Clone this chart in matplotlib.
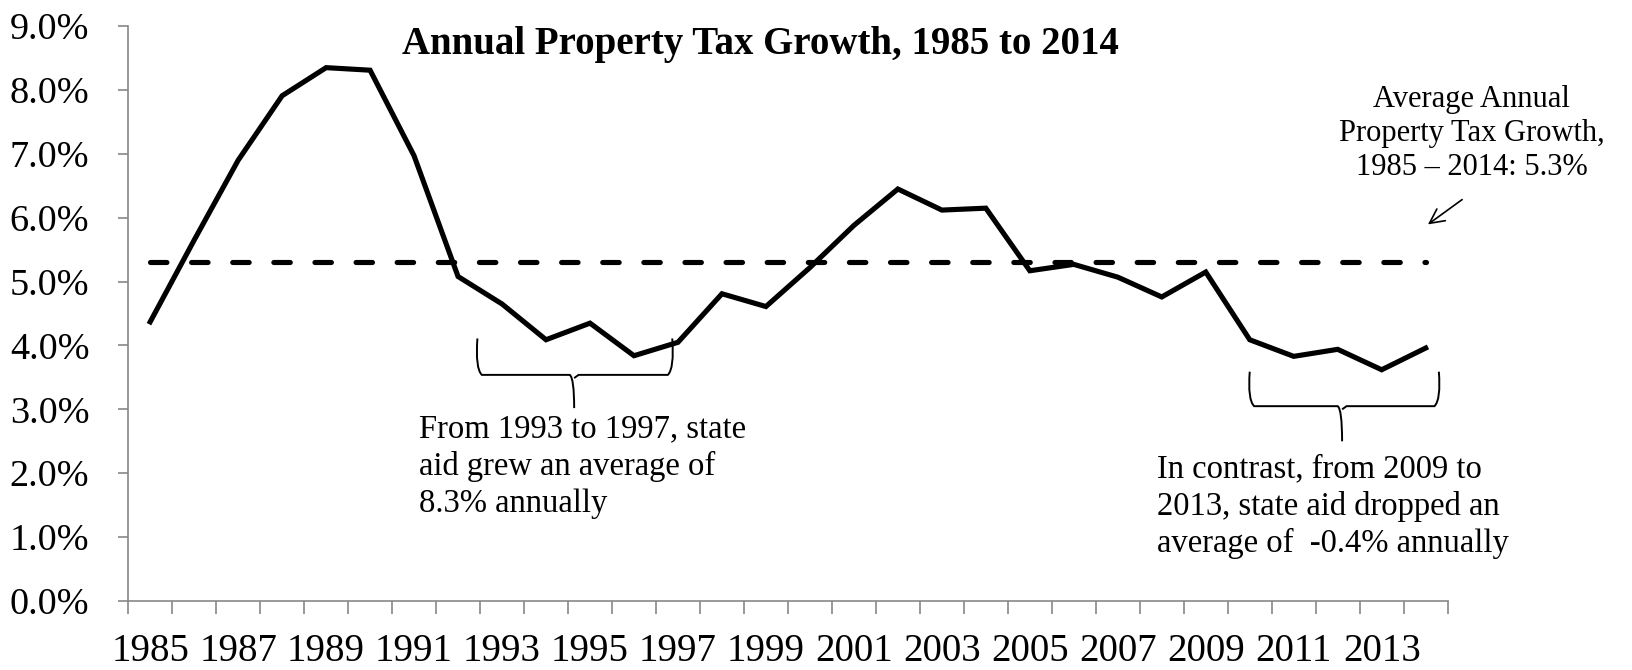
import numpy as np
import matplotlib
matplotlib.use("Agg")
import matplotlib.pyplot as plt
from matplotlib.path import Path
from matplotlib.patches import PathPatch

years = list(range(1985, 2015))
growth = [4.37, 5.65, 6.90, 7.91, 8.35, 8.31, 6.97, 5.08, 4.65, 4.09,
          4.35, 3.84, 4.05, 4.81, 4.61, 5.22, 5.88, 6.45, 6.12, 6.15,
          5.17, 5.27, 5.07, 4.76, 5.15, 4.09, 3.83, 3.94, 3.62, 3.96]
average = 5.3
yticks = np.arange(0, 9.01, 1.0)
xlabels = list(range(1985, 2014, 2))

plt.rcParams['font.family'] = ['Liberation Serif', 'DejaVu Serif']

fig = plt.figure(figsize=(16.33, 6.70), dpi=100)
ax = fig.add_axes([0.0785, 0.103, 0.808, 0.858])

ax.plot(years, growth, color="black", lw=3.7, solid_joinstyle="miter")
ax.plot([years[0], years[-1]], [average, average], color="black", lw=3.7,
        dashes=(3.2, 4.8), dash_capstyle="round")

ax.set_xlim(1984.5, 2014.5)
ax.set_ylim(0, 9)
ax.set_yticks(yticks)
ax.set_yticklabels([f"{v:.1f}%" for v in yticks])
ax.set_xticks(xlabels)
ax.set_xticklabels([str(y) for y in xlabels])
ax.set_xticks(np.arange(1984.5, 2015, 1), minor=True)

for s in ["top", "right"]:
    ax.spines[s].set_visible(False)
for s in ["left", "bottom"]:
    ax.spines[s].set_color("#888888")
    ax.spines[s].set_linewidth(1.2)

ax.tick_params(axis="y", direction="out", length=7, width=1.2, color="#888888",
               pad=21, labelsize=27.5)
ax.tick_params(axis="x", which="major", length=0, pad=23, labelsize=28)
ax.tick_params(axis="x", which="minor", direction="out", length=9, width=1.2,
               color="#888888")

ax.text(1998.88, 8.72, "Annual Property Tax Growth, 1985 to 2014",
        ha="center", va="center", fontsize=28, fontweight="bold")

ax.text(2015.04, 8.08, "Average Annual\nProperty Tax Growth,\n1985 \u2013 2014: 5.3%",
        ha="center", va="top", fontsize=22, linespacing=1.22, clip_on=False)
ax.annotate("", xy=(2014.0, 5.87), xytext=(2014.88, 6.31),
            arrowprops=dict(arrowstyle="->", color="black", lw=1.2,
                            mutation_scale=26), annotation_clip=False)

ax.text(1991.11, 2.93, "From 1993 to 1997, state\naid grew an average of\n8.3% annually",
        ha="left", va="top", fontsize=23.5, linespacing=1.28)
ax.text(2007.89, 2.31, "In contrast, from 2009 to\n2013, state aid dropped an\naverage of  -0.4% annually",
        ha="left", va="top", fontsize=23.5, linespacing=1.28)


def brace(x0, x1, xm, ytop, ybar, ytip):
    verts = [(x0, ytop), (x0 - 0.05, ybar + 0.1), (x0 + 0.1, ybar),
             (xm - 0.1, ybar), (xm, ybar - 0.05), (xm, ytip),
             (xm, ybar - 0.05), (xm + 0.1, ybar),
             (x1 - 0.1, ybar), (x1 + 0.05, ybar + 0.1), (x1, ytop)]
    codes = [Path.MOVETO, Path.CURVE3, Path.CURVE3,
             Path.LINETO, Path.CURVE3, Path.CURVE3,
             Path.MOVETO, Path.LINETO,
             Path.LINETO, Path.CURVE3, Path.CURVE3]
    ax.add_patch(PathPatch(Path(verts, codes), fill=False, lw=1.4,
                           edgecolor="black", clip_on=False))


brace(1992.44, 1996.87, 1994.64, 4.11, 3.54, 3.02)
brace(2010.0, 2014.3, 2012.1, 3.59, 3.05, 2.50)

fig.savefig("out.png", dpi=100)
